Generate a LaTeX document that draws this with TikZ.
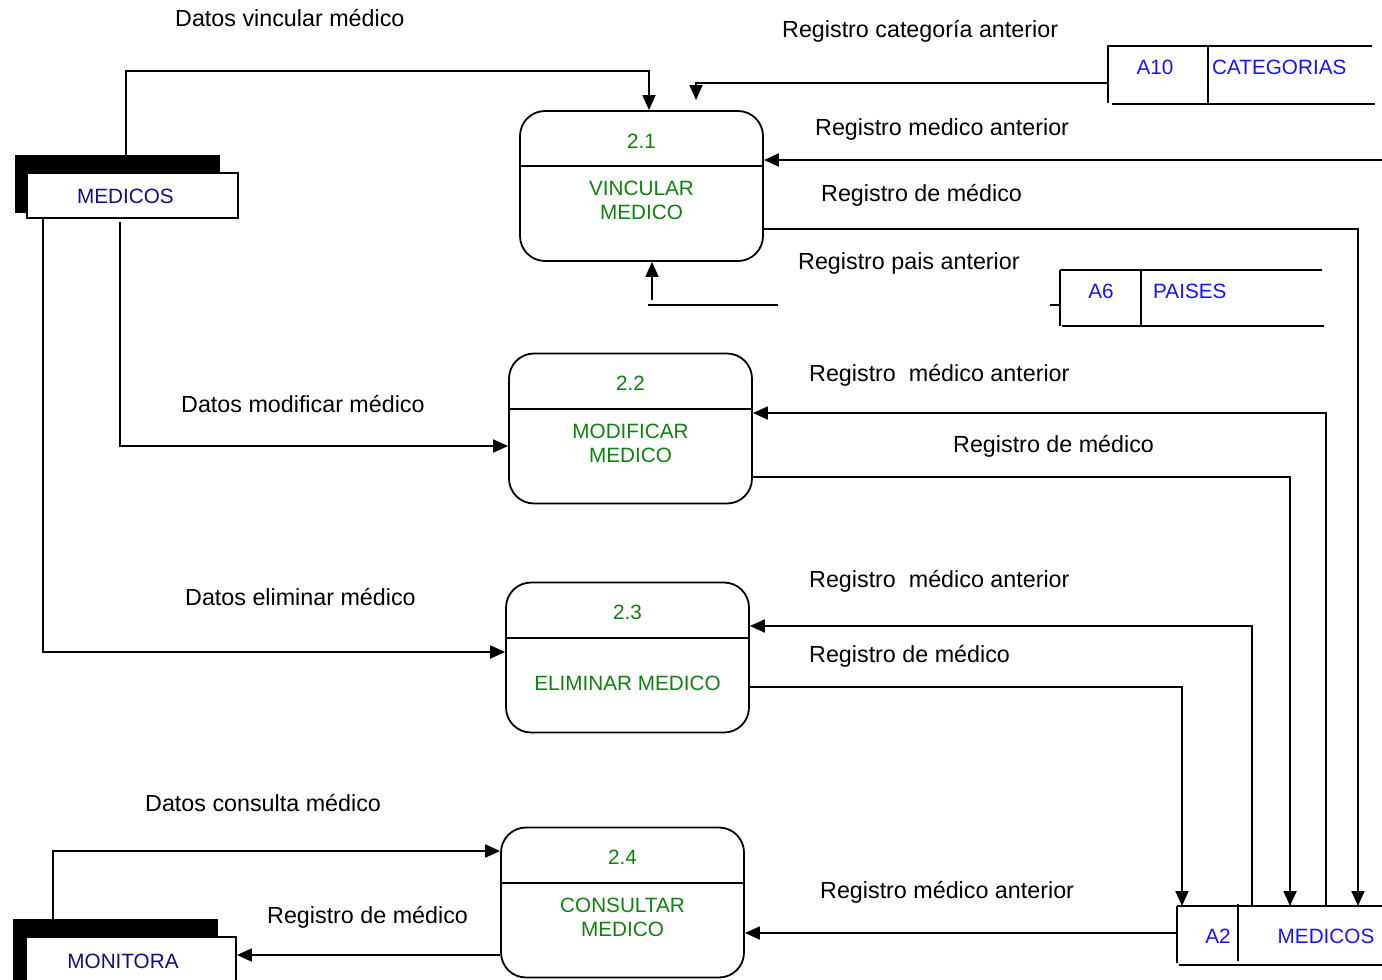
\documentclass[tikz,border=0pt]{standalone}
\usepackage{fontspec}
\setmainfont{Liberation Sans}
\usetikzlibrary{arrows.meta}
\definecolor{procgreen}{RGB}{16,128,16}
\definecolor{entnavy}{RGB}{16,16,130}
\definecolor{storeblue}{RGB}{20,20,250}
\tikzset{
  lw/.style={line width=1.8pt},
  arr/.style={lw,-{Triangle[length=15pt,width=13pt]}},
  lbl/.style={anchor=base west,inner sep=0pt,font=\fontsize{23.3}{28}\selectfont},
  proc/.style={draw,lw,rounded corners=25pt,minimum width=243pt,minimum height=150pt,inner sep=0pt},
  ptxt/.style={inner sep=0pt,align=center,text=procgreen,font=\fontsize{20.7}{24}\selectfont},
  stxt/.style={inner sep=0pt,text=storeblue,font=\fontsize{20.7}{24}\selectfont},
  shadowbox/.style={fill=black,inner sep=0pt},
  entbox/.style={draw,lw,fill=white,inner sep=0pt},
  etxt/.style={inner sep=0pt,text=entnavy,font=\fontsize{20.7}{24}\selectfont},
}
\begin{document}
\begin{tikzpicture}[x=1pt,y=-1pt]
\useasboundingbox (0,0) rectangle (1382,980);
\begin{scope}
\clip (0,0) rectangle (1382,980);

% processes
\node[proc] (p1) at (641.5,186) {};
\node[proc] (p2) at (630.5,428.5) {};
\node[proc] (p3) at (627.5,657.5) {};
\node[proc] (p4) at (622.5,902.5) {};
\foreach \p in {p1,p2,p3,p4}{
  \draw[lw] ([yshift=-56pt]\p.north west) -- ([yshift=-56pt]\p.north east);
}
\node[ptxt] (p1n) at (641.5,141) {2.1};
\node[ptxt] (p1t) at (641.5,200) {VINCULAR\\MEDICO};
\node[ptxt] (p2n) at (630.5,383) {2.2};
\node[ptxt] (p2t) at (630.5,443) {MODIFICAR\\MEDICO};
\node[ptxt] (p3n) at (627.5,612) {2.3};
\node[ptxt] (p3t) at (627.5,683) {ELIMINAR MEDICO};
\node[ptxt] (p4n) at (622.5,857) {2.4};
\node[ptxt] (p4t) at (622.5,917) {CONSULTAR\\MEDICO};

% external entities
\node[shadowbox,minimum width=205pt,minimum height=58pt] (medsh) at (117.5,184) {};
\node[entbox,minimum width=211pt,minimum height=45pt] (med) at (132.5,195.5) {};
\node[etxt] (medt) at (125.5,196) {MEDICOS};
\node[shadowbox,minimum width=205pt,minimum height=70pt] (monsh) at (115.5,954) {};
\node[entbox,minimum width=210pt,minimum height=48pt] (mon) at (131,961) {};
\node[etxt] (mont) at (123,961) {MONITORA};

% data stores
\draw[lw] (1108,45) -- (1108,103) (1108,46) -- (1372,46) (1112,104) -- (1375,104) (1208,46) -- (1208,103);
\node[stxt] (a10id) at (1155,67) {A10};
\node[stxt,anchor=west] (a10nm) at (1212,67) {CATEGORIAS};
\coordinate (a10w) at (1108,83);

\draw[lw] (1060,270) -- (1060,326) (1060,270) -- (1322,270) (1062,326) -- (1324,326) (1141,270) -- (1141,326);
\node[stxt] (a6id) at (1101,291) {A6};
\node[stxt,anchor=west] (a6nm) at (1153,291) {PAISES};
\coordinate (a6w) at (1060,305);
\coordinate (a6s) at (1050,305);
\draw[lw] (a6s) -- (a6w);

\draw[lw] (1177,906) -- (1177,963) (1177,906) -- (1382,906) (1179,965) -- (1382,965) (1238,904) -- (1238,961);
\node[stxt] (a2id) at (1218,936) {A2};
\node[stxt] (a2nm) at (1326,936) {MEDICOS};
\coordinate (a2nw) at (1177,906);

% free ends
\coordinate (catend) at (696,100);
\coordinate (rin) at (1382,160);
\coordinate (paisa) at (648,305);
\coordinate (paisb) at (778,305);
\coordinate (paisup) at (652,300);

% connectors
\draw[arr] (medsh.north -| 126,0) -- (126,71) -- (649,71) -- (p1.north -| 649,0);
\draw[arr] (a10w) -- (catend |- a10w) -- (catend);
\draw[arr] (rin) -- (p1.east |- rin);
\draw[arr] (p1.east |- 0,229) -- (1358,229) -- (a2nw -| 1358,0);
\draw[lw] (paisa) -- (paisb);
\draw[arr] (paisup) -- (p1.south -| paisup);

\draw[arr] (120,222) -- (120,446) -- (p2.west |- 0,446);
\draw[arr] (med.south -| 43,0) -- (43,652) -- (p3.west |- 0,652);

\draw[arr] (a2nw -| 1326,0) -- (1326,413) -- (p2.east |- 0,413);
\draw[arr] (p2.east |- 0,477) -- (1290,477) -- (a2nw -| 1290,0);
\draw[arr] (a2nw -| 1252,0) -- (1252,626) -- (p3.east |- 0,626);
\draw[arr] (p3.east |- 0,687) -- (1182,687) -- (a2nw -| 1182,0);
\draw[arr] (a2nw |- 0,933) -- (p4.east |- 0,933);

\draw[arr] (monsh.north -| 53,0) -- (53,851) -- (p4.west |- 0,851);
\draw[arr] (p4.west |- 0,955) -- (mon.east |- 0,955);

% labels
\node[lbl] (l1) at (175,26) {Datos vincular médico};
\node[lbl] (l2) at (782,37) {Registro categoría anterior};
\node[lbl] (l3) at (815,135) {Registro medico anterior};
\node[lbl] (l4) at (821,201) {Registro de médico};
\node[lbl] (l5) at (798,269) {Registro pais anterior};
\node[lbl] (l6) at (809,381) {Registro\ \ médico anterior};
\node[lbl] (l7) at (181,412) {Datos modificar médico};
\node[lbl] (l8) at (953,452) {Registro de médico};
\node[lbl] (l9) at (809,587) {Registro\ \ médico anterior};
\node[lbl] (l10) at (185,605) {Datos eliminar médico};
\node[lbl] (l11) at (809,662) {Registro de médico};
\node[lbl] (l12) at (145,811) {Datos consulta médico};
\node[lbl] (l13) at (820,898) {Registro médico anterior};
\node[lbl] (l14) at (267,923) {Registro de médico};
\end{scope}
\end{tikzpicture}
\end{document}
